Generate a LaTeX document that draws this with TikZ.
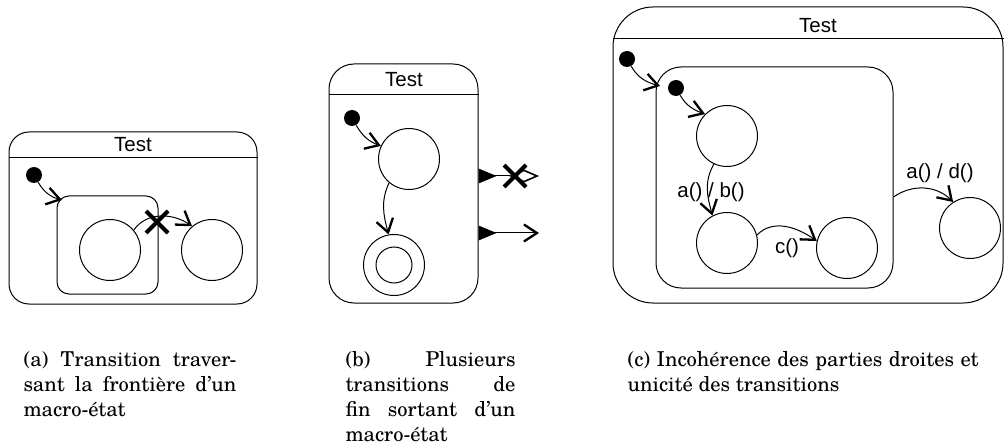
\documentclass[tikz,border=0pt]{standalone}
\usepackage{fontspec}
\usepackage{tikz}
\usetikzlibrary{arrows.meta,shapes.misc}
\newfontfamily\scholafont{TeX Gyre Schola}
\newfontfamily\arialfont{Liberation Sans}

\begin{document}
\begin{tikzpicture}[x=1pt, y=1pt, line width=1pt,
    macro/.style={draw, rounded corners=#1, inner sep=0pt},
    simple/.style={draw, circle, minimum size=61pt, inner sep=0pt},
    init/.style={fill, circle, minimum size=16pt, inner sep=0pt},
    lbl/.style={font=\arialfont\fontsize{20.5pt}{24pt}\selectfont, inner sep=0pt},
    trans/.style={-{Straight Barb[length=13pt, width=17pt, line width=2.3pt]}},
    forbid/.style={draw, cross out, line width=4pt, minimum size=18pt, inner sep=0pt},
    legende/.style={anchor=north west, inner sep=0pt, align=justify, text width=#1,
      font=\scholafont\fontsize{20.5pt}{25pt}\selectfont}]
  \useasboundingbox (0,0) rectangle (1006,-446);

  % (a) transition crossing the macro-state border
  \node[macro=20pt, minimum width=248pt, minimum height=172pt] (macroA) at (133,-218) {};
  \node[lbl] (titleA) at (133,-145) {Test};
  \draw (macroA.west |- 0,-158) -- (macroA.east |- 0,-158);
  \node[init] (initA) at (34,-175) {};
  \node[macro=12pt, minimum width=101pt, minimum height=98pt] (subA) at (107.5,-245) {};
  \node[simple] (a1) at (110,-250) {};
  \node[simple] (a2) at (212,-250) {};
  \coordinate (entryA) at (62,-200);
  \draw[trans] (initA) to[out=-60, in=165] (entryA);
  \draw[trans] (a1.40) to[out=55, in=145] (a2.130);
  \node[forbid] (xA) at (157,-222) {};

  % (b) several final transitions
  \node[macro=25pt, minimum width=149pt, minimum height=239pt] (macroB) at (403.5,-183.5) {};
  \node[lbl] (titleB) at (404,-80) {Test};
  \draw (macroB.west |- 0,-95) -- (macroB.east |- 0,-95);
  \node[init] (initB) at (352,-118) {};
  \node[simple] (b1) at (409,-159) {};
  \node[simple] (bF) at (394,-265) {};
  \node[draw, circle, minimum size=36pt, inner sep=0pt] (bFin) at (bF) {};
  \draw[trans] (initB) to[out=-60, in=160] (b1.155);
  \draw[trans] (b1.-130) to[out=-115, in=105] (bF.100);
  \coordinate (exitB1) at (macroB.east |- 0,-176);
  \coordinate (exitB2) at (macroB.east |- 0,-233);
  \coordinate (endB1) at (539,-176);
  \coordinate (endB2) at (539,-233);
  \draw[-{Diamond[open, length=30pt, width=13pt, line width=1.6pt]}] (exitB1) -- (endB1);
  \draw[trans] (exitB2) -- (endB2);
  \foreach \e in {exitB1,exitB2} {
    \fill (\e) ++(0,7.5) -- ++(18,-7.5) -- ++(-18,-7.5) -- cycle;
  }
  \node[forbid] (xB) at (515,-176) {};

  % (c) right parts and uniqueness
  \node[macro=40pt, minimum width=390pt, minimum height=296pt] (macroC) at (808,-155) {};
  \node[lbl] (titleC) at (818,-26) {Test};
  \draw (macroC.west |- 0,-39) -- (macroC.east |- 0,-39);
  \node[init] (initC) at (627,-59) {};
  \node[macro=25pt, minimum width=237pt, minimum height=221pt] (subC) at (774.5,-177.5) {};
  \node[init] (initCs) at (676,-88) {};
  \foreach \n/\x/\y in {c1/727/136, c2/727/243, c3/847/248, c4/970/228} {
    \node[simple] (\n) at (\x,-\y) {};
  }
  \coordinate (entryC) at (660,-86);
  \coordinate (exitC) at (subC.east |- 0,-197);
  \draw[trans] (initC) to[out=-60, in=165] (entryC);
  \draw[trans] (initCs) to[out=-60, in=160] (c1.135);
  \draw[trans] (c1.-115) to[out=-120, in=105] (c2.118);
  \draw[trans] (c2.15) to[out=45, in=145] (c3.167);
  \draw[trans] (exitC) to[out=35, in=135] (c4.123);
  \node[lbl] (ab) at (711,-192) {a() / b()};
  \node[lbl] (cc) at (787,-248) {c()};
  \node[lbl] (ad) at (940,-173) {a() / d()};

  % captions
  \node[legende=213pt] (capA) at (23,-351)
    {(a) Transition traver-\linebreak sant la frontière d’un macro-état};
  \node[legende=170pt] (capB) at (345,-351)
    {(b) Plusieurs\linebreak transitions de\linebreak fin sortant d’un\linebreak macro-état};
  \node[legende=351pt] (capC) at (627,-351)
    {(c) Incohérence des parties droites et\linebreak unicité des transitions};
\end{tikzpicture}
\end{document}
